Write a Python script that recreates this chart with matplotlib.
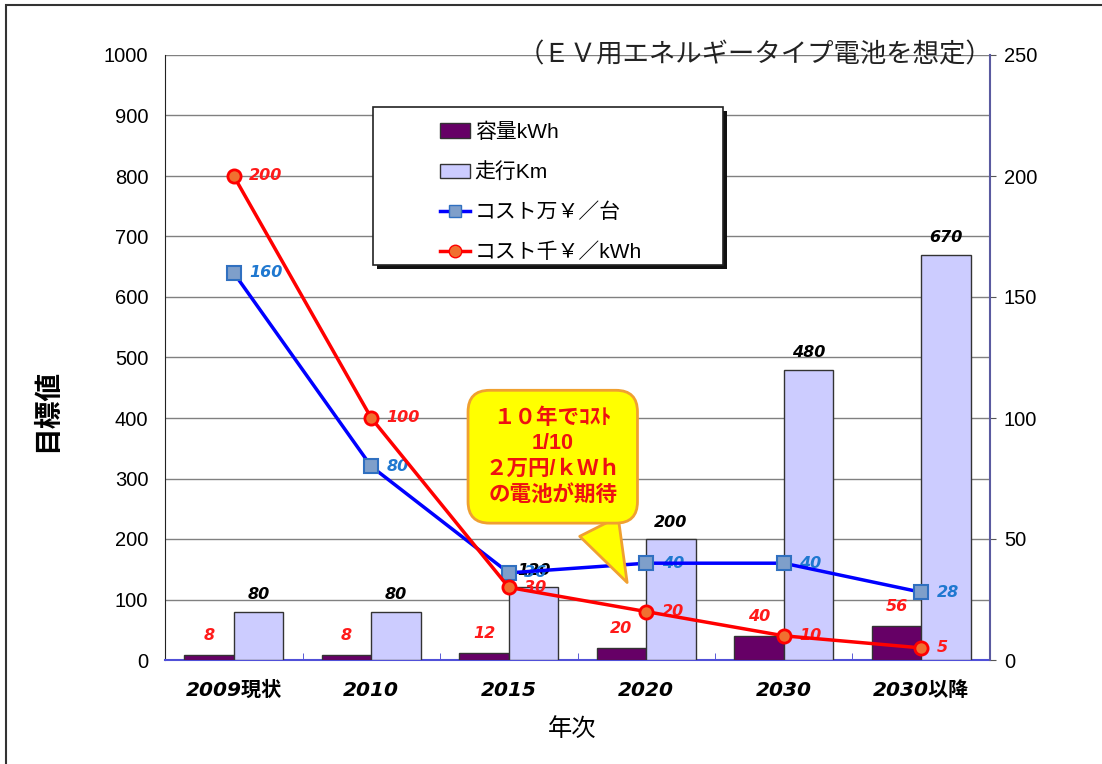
import numpy as np
import matplotlib.pyplot as plt
from matplotlib.patches import Rectangle, Patch
from matplotlib.lines import Line2D

plt.rcParams['font.family'] = ['Liberation Sans', 'Noto Sans CJK JP']

years = ['2009現状', '2010', '2015', '2020', '2030', '2030以降']
capacity_kwh = [8, 8, 12, 20, 40, 56]
range_km = [80, 80, 120, 200, 480, 670]
cost_man_yen = [160, 80, 36, 40, 40, 28]
cost_sen_yen = [200, 100, 30, 20, 10, 5]

W, H = 1102, 764
fig = plt.figure(figsize=(W / 100, H / 100), dpi=100)

# outer frame
fig.patches.append(Rectangle((6 / W, -0.05), 1.2, 1 - 5 / H + 0.05, transform=fig.transFigure,
                             fill=False, ec='#333333', lw=1.5))

ax = fig.add_axes([165 / W, 104 / H, 825 / W, 605 / H])
x = np.arange(len(years))
w = 0.36
ax.bar(x - w / 2, capacity_kwh, w, color='#660066', edgecolor='#333333', lw=1, zorder=3)
ax.bar(x + w / 2, range_km, w, color='#ccccff', edgecolor='#333333', lw=1, zorder=3)
ax.set_xlim(-0.5, 5.5)
ax.set_ylim(0, 1000)
ax.set_yticks(range(0, 1001, 100))
ax.yaxis.grid(True, color='#808080', lw=1)
ax.set_axisbelow(True)
ax.tick_params(axis='y', length=0, pad=12, labelsize=14.5)
ax.set_xticks(x, years, fontsize=14.5, fontweight='bold', fontstyle='italic',
              family=['DejaVu Sans', 'Noto Sans CJK JP'])
ax.set_xticks(x[:-1] + 0.5, minor=True)
ax.tick_params(axis='x', which='major', length=0, pad=15)
ax.tick_params(axis='x', which='minor', direction='in', length=5, color='#4040d0')
ax.spines['top'].set_visible(False)
ax.spines['right'].set_visible(False)
ax.spines['left'].set_color('#222222')
ax.spines['bottom'].set_color('#5050d8')
ax.spines['bottom'].set_linewidth(1.5)

lab = dict(fontsize=11.5, fontweight='bold', fontstyle='italic', ha='center', va='center',
           family='DejaVu Sans')
for xi, v in zip(x, capacity_kwh):
    ax.annotate(str(v), (xi - w / 2, v), xytext=(0, 14), textcoords='offset points',
                color='#ff1a1a', **lab)
for xi, v in zip(x, range_km):
    ax.annotate(str(v), (xi + w / 2, v), xytext=(0, 12), textcoords='offset points',
                color='black', **lab)

ax2 = ax.twinx()
ax2.set_ylim(0, 250)
ax2.set_yticks(range(0, 251, 50))
ax2.tick_params(axis='y', length=4, color='#555555', pad=6, labelsize=14.5)
for s in ['top', 'left', 'bottom']:
    ax2.spines[s].set_visible(False)
ax2.spines['right'].set_color('#5a5aa0')
ax2.spines['right'].set_linewidth(1.5)

ax2.plot(x, cost_man_yen, color='#0000ff', lw=2.5, marker='s', ms=9.5,
         mfc='#7f9fca', mec='#3070c0', mew=1.5, zorder=4)
ax2.plot(x, cost_sen_yen, color='#ff0000', lw=2.5, marker='o', ms=9.5,
         mfc='#f07030', mec='#ff0000', mew=2, zorder=5)
side = dict(fontsize=11.5, fontweight='bold', fontstyle='italic', ha='left', va='center',
            family='DejaVu Sans')
for xi, v in zip(x, cost_man_yen):
    ax2.annotate(str(v), (xi, v), xytext=(11, 0), textcoords='offset points',
                 color='#1f78d0', **side)
for xi, v in zip(x, cost_sen_yen):
    ax2.annotate(str(v), (xi, v), xytext=(11, 0), textcoords='offset points',
                 color='#ff1a1a', **side)

# speech bubble
ax2.annotate('１０年でｺｽﾄ\n1/10\n２万円/ｋＷｈ\nの電池が期待', xy=(2.87, 31), xytext=(2.32, 84),
             ha='center', va='center', color='#ee1111', fontsize=15.5, fontweight='bold',
             linespacing=1.3, zorder=6,
             bbox=dict(boxstyle='round,pad=0.8,rounding_size=1.0', fc='#ffff00', ec='#f0a030', lw=2),
             arrowprops=dict(arrowstyle='wedge,tail_width=2.0,shrink_factor=0.5', fc='#ffff00',
                             ec='#f0a030', lw=2, relpos=(0.75, 0.04)))

# legend with shadowed box
fig.patches.append(Rectangle((377 / W, 1 - 269 / H), 350 / W, 158 / H, transform=fig.transFigure,
                             fc='#111111', ec='none', zorder=7))
fig.patches.append(Rectangle((373 / W, 1 - 265 / H), 350 / W, 158 / H, transform=fig.transFigure,
                             fc='white', ec='#222222', lw=1.2, zorder=8))
handles = [Patch(fc='#660066', ec='#333333'),
           Patch(fc='#ccccff', ec='#333333'),
           Line2D([], [], color='#0000ff', lw=2.5, marker='s', ms=9, mfc='#7f9fca', mec='#3070c0'),
           Line2D([], [], color='#ff0000', lw=2.5, marker='o', ms=9, mfc='#f07030', mec='#ff0000')]
labels = ['容量kWh', '走行Km', 'コスト万￥／台', 'コスト千￥／kWh']
leg = fig.legend(handles, labels, loc='upper left', bbox_to_anchor=(430 / W, 1 - 112 / H),
                 frameon=False, fontsize=15, labelspacing=0.98, handlelength=1.4,
                 handletextpad=0.25, borderpad=0)
leg.set_zorder(9)

fig.text(518 / W, 1 - 55 / H, '（ＥＶ用エネルギータイプ電池を想定）', fontsize=19,
         ha='left', va='center', color='#222222')
fig.text(48 / W, 1 - 410 / H, '目標値', fontsize=20, fontweight='bold', rotation=90,
         ha='center', va='center')
fig.text(572 / W, 1 - 730 / H, '年次', fontsize=17.5, ha='center', va='center')

fig.savefig('out.png', dpi=100)
